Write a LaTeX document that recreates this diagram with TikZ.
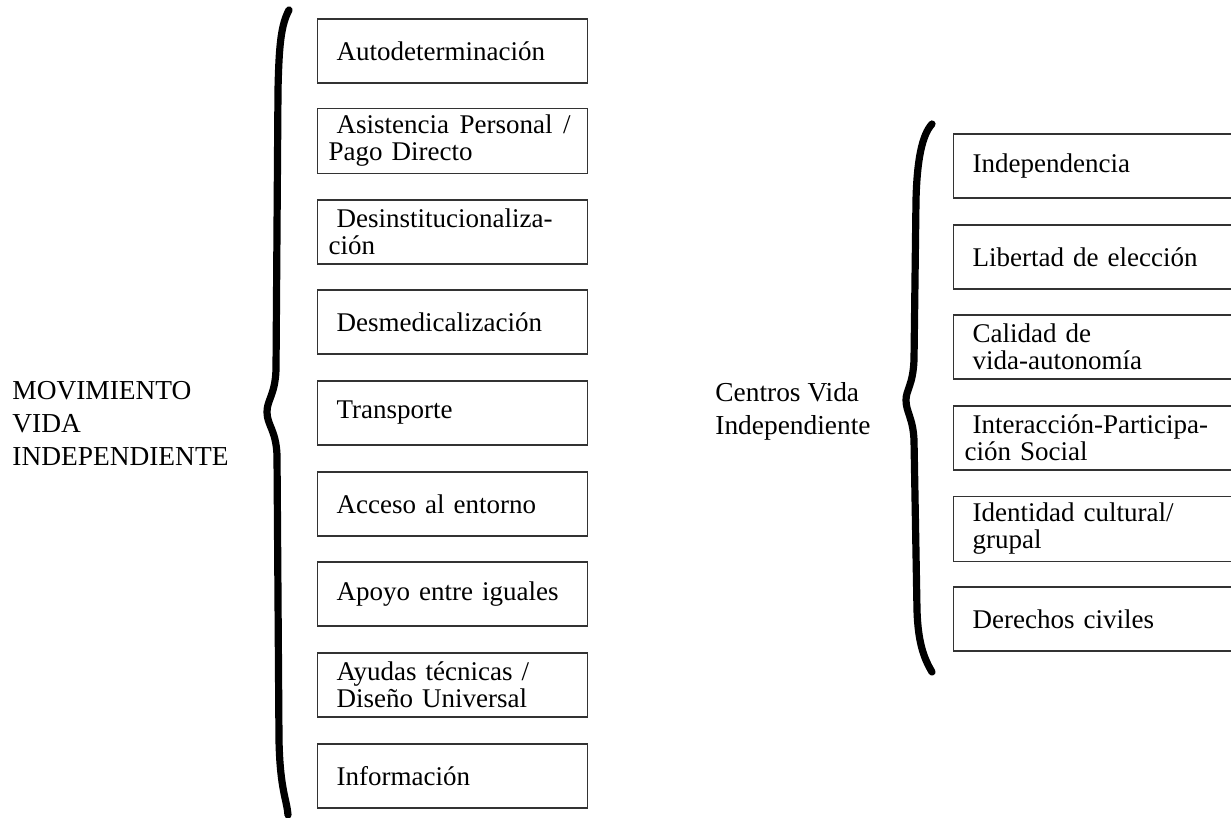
\documentclass[tikz,border=0pt]{standalone}
\usepackage{fontspec}
\setmainfont{Liberation Serif}
\tikzset{
  item/.style={draw=black!80,line width=0.6pt,anchor=west,minimum height=32pt,text width=116pt,inner xsep=9.5pt,align=left,font=\fontsize{13.5}{13.5}\selectfont},
  wideitem/.style={item,text width=126pt},
  head/.style={anchor=west,align=left,inner sep=0pt,font=\fontsize{13.7}{16.5}\selectfont},
  curly/.style={line width=3.6pt,line cap=round,line join=round}
}
\begin{document}
\begin{tikzpicture}[x=0.5pt,y=-0.5pt]
\useasboundingbox (0,0) rectangle (1231,818);
% left group
\node[head] (mvi) at (12,423) {MOVIMIENTO\\VIDA\\INDEPENDIENTE};
\draw[curly] (289,10) .. controls (281,25) and (279,45) .. (278,90) -- (276,370) .. controls (275,395) and (267,400) .. (267,412) .. controls (267,425) and (276,430) .. (277,455) -- (279,740) .. controls (280,790) and (287,800) .. (288,815);
\node[item] (auto) at (317,51) {Autodeterminación};
\node[item] (asis) at (317,141) {\hbox to 117pt{Asistencia\hfil Personal\hfil /}\\\hspace*{-4pt}Pago Directo};
\node[item] (desi) at (317,232) {Desinstitucionaliza-\\\hspace*{-4pt}ción};
\node[item] (desm) at (317,322) {Desmedicalización};
\node[item] (tran) at (317,413) {Transporte};
\node[item] (acce) at (317,504) {Acceso al entorno};
\node[item] (apoy) at (317,594) {Apoyo entre iguales};
\node[item] (ayud) at (317,685) {Ayudas técnicas /\\Diseño Universal};
\node[item] (info) at (317,776) {Información};
% right group
\node[head] (cvi) at (715,411) {Centros Vida\\Independiente};
\draw[curly] (932,124) .. controls (922,135) and (917,160) .. (916,200) -- (914,360) .. controls (913,385) and (906,390) .. (906,400) .. controls (906,412) and (913,418) .. (914,440) -- (917,610) .. controls (918,645) and (925,660) .. (932,672);
\node[wideitem] (inde) at (953,166) {Independencia};
\node[wideitem] (libe) at (953,257) {Libertad de elección};
\node[wideitem] (cali) at (953,347) {Calidad de\\vida-autonomía};
\node[wideitem] (inte) at (953,438) {Interacción-Participa-\\\hspace*{-4pt}ción Social};
\node[wideitem] (iden) at (953,529) {Identidad cultural/\\grupal};
\node[wideitem] (dere) at (953,619) {Derechos civiles};
\end{tikzpicture}
\end{document}
